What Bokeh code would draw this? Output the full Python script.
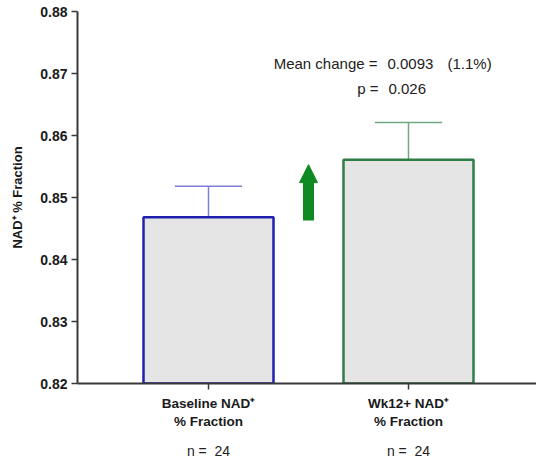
from bokeh.plotting import figure
from bokeh.models import (Range1d, FixedTicker, Label, Arrow, NormalHead,
                          ColumnDataSource, PrintfTickFormatter, LinearAxis)
from bokeh.embed import file_html
from bokeh.resources import INLINE

# ---- data ----
categories = ["Baseline NAD\u207a\n% Fraction", "Wk12+ NAD\u207a\n% Fraction"]
means = [0.8468, 0.8561]
sems = [0.0050, 0.0060]
n_values = [24, 24]
y_ticks = [0.82, 0.83, 0.84, 0.85, 0.86, 0.87, 0.88]
mean_change = "0.0093"
pct_change = "(1.1%)"
p_value = "0.026"

# ---- styles ----
outline_colors = ["#2020b0", "#2f7d47"]
err_colors = ["#7d7de0", "#6fa882"]
fill_color = "#e5e5e5"
arrow_color = "#0f8a22"
font = "Liberation Sans"
axis_color = "#383838"

xs = [1, 2]
tops = [m + s for m, s in zip(means, sems)]
cap_half = 0.168

p = figure(width=536, height=463, output_backend="svg", toolbar_location=None,
           x_range=Range1d(0.345, 2.64), y_range=Range1d(0.82, 0.88),
           min_border_left=77, min_border_top=11, min_border_right=0,
           min_border_bottom=80)
p.outline_line_color = None
p.grid.visible = False
p.background_fill_color = "white"
p.border_fill_color = "white"

src = ColumnDataSource(dict(x=xs, top=means, upper=tops,
                            c0=[x - cap_half for x in xs],
                            c1=[x + cap_half for x in xs],
                            oc=outline_colors, ec=err_colors))

# error bars (upper only)
p.segment(x0="x", y0="top", x1="x", y1="upper", line_color="ec",
          line_width=1.5, source=src)
p.segment(x0="c0", y0="upper", x1="c1", y1="upper", line_color="ec",
          line_width=1.5, source=src)
# bars
p.vbar(x="x", top="top", bottom=0.82, width=0.65, fill_color=fill_color,
       line_color="oc", line_width=2.5, source=src)

# arrow between the means
p.add_layout(Arrow(x_start=1.5, y_start=means[0] - 0.0005, x_end=1.5,
                   y_end=means[1] - 0.0008, line_color=arrow_color,
                   line_width=11,
                   end=NormalHead(size=18, fill_color=arrow_color,
                                  line_color=arrow_color, line_width=1)))

# axes
yax = p.yaxis[0]
yax.ticker = FixedTicker(ticks=y_ticks)
yax.formatter = PrintfTickFormatter(format="%.2f")
yax.axis_label = "NAD\u207a % Fraction"
for ax in (p.xaxis[0], yax):
    ax.axis_line_color = axis_color
    ax.axis_line_width = 2
    ax.major_tick_line_color = axis_color
    ax.major_tick_line_width = 1.5
    ax.major_tick_in = 0
    ax.major_tick_out = 6
    ax.minor_tick_line_color = None
    ax.major_label_text_font = font
    ax.major_label_text_font_style = "bold"
    ax.major_label_text_color = "#1a1a1a"
yax.major_label_text_font_size = "14px"
yax.major_label_standoff = 4
yax.axis_label_text_font = font
yax.axis_label_text_font_style = "bold"
yax.axis_label_text_font_size = "13px"
yax.axis_label_text_color = "#1a1a1a"
yax.axis_label_standoff = 12

xax = p.xaxis[0]
xax.ticker = FixedTicker(ticks=xs)
xax.major_label_overrides = {x: c for x, c in zip(xs, categories)}
xax.major_label_text_font_size = "13.5px"
xax.major_label_standoff = 6

# second axis row: sample sizes
nax = LinearAxis(ticker=FixedTicker(ticks=xs),
                 major_label_overrides={x: "n =\u00a0\u00a0" + str(n)
                                        for x, n in zip(xs, n_values)})
nax.axis_line_color = None
nax.major_tick_line_color = None
nax.minor_tick_line_color = None
nax.major_label_text_font = font
nax.major_label_text_font_size = "14px"
nax.major_label_text_color = "#222222"
nax.major_label_standoff = 5
p.add_layout(nax, "below")

# annotation texts
def txt(x, y, s, align="left"):
    p.add_layout(Label(x=x, y=y, text=s, text_align=align,
                       text_baseline="middle", text_font=font,
                       text_font_size="15px", text_color="#222222"))

txt(1.845, 0.87161, "Mean change =", "right")
txt(1.895, 0.87161, mean_change)
txt(2.195, 0.87161, pct_change)
txt(1.85, 0.86758, "p =", "right")
txt(1.90, 0.86758, p_value)

open("out.html", "w").write(file_html(p, INLINE))
